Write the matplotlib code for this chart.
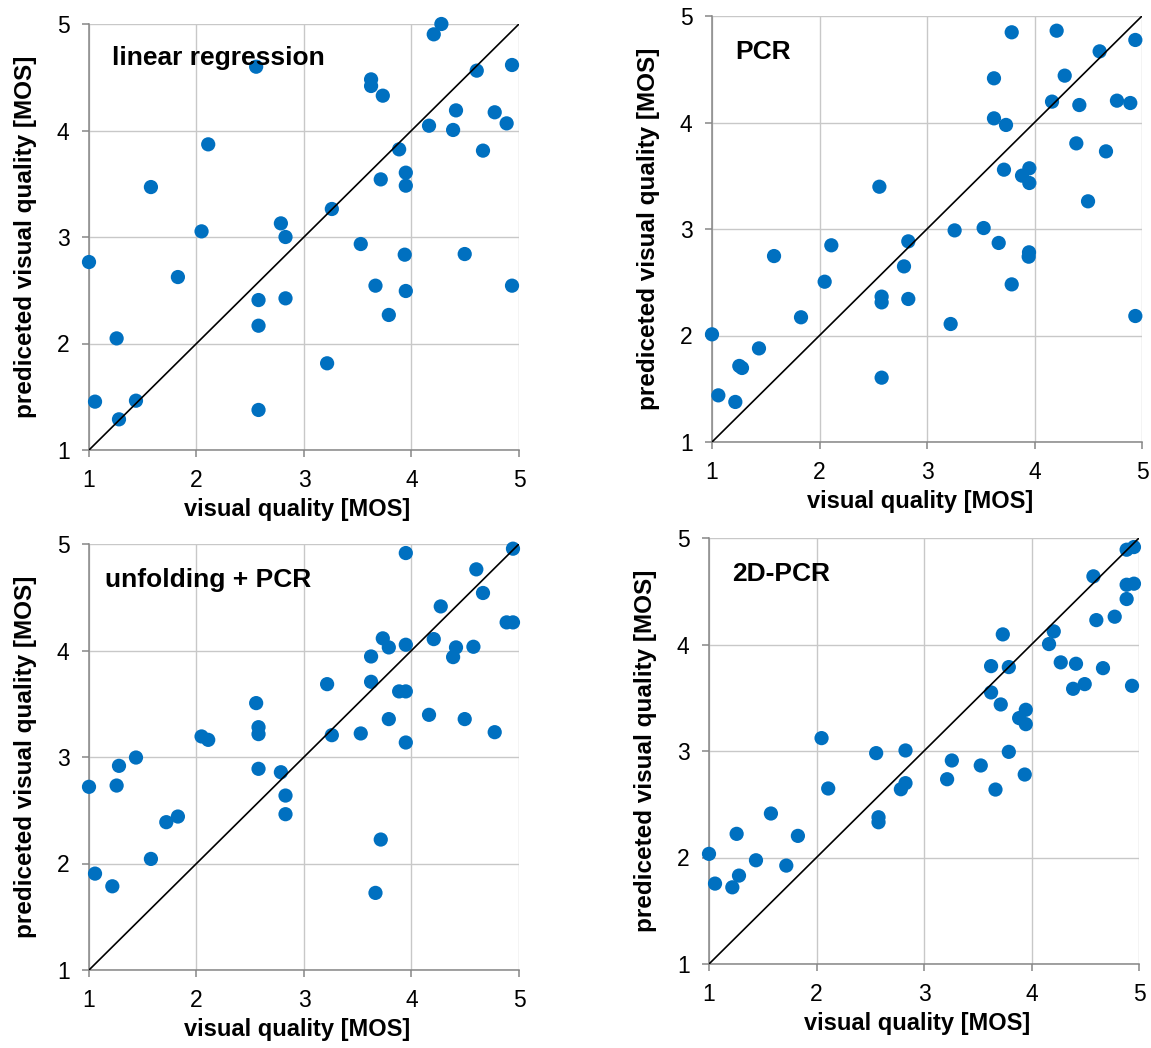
import matplotlib
matplotlib.use("Agg")
import matplotlib.pyplot as plt

plt.rcParams['font.family'] = ['Liberation Sans', 'DejaVu Sans']

# linear regression
lr_x = [4.278, 4.207, 2.555, 4.935, 4.607, 3.624, 3.624, 3.733, 4.414, 4.774,
        4.885, 4.163, 4.387, 2.109, 3.885, 4.665, 3.947, 3.714, 3.947, 1.576,
        3.259, 2.785, 2.047, 2.828, 3.528, 3.937, 4.495, 1.000, 1.827, 3.665,
        4.935, 3.947, 2.577, 2.828, 3.789, 2.577, 1.257, 3.215, 1.056, 1.437,
        1.279, 2.577]
lr_y = [5.000, 4.903, 4.599, 4.615, 4.562, 4.480, 4.418, 4.327, 4.189, 4.171,
        4.067, 4.045, 4.005, 3.870, 3.823, 3.811, 3.604, 3.541, 3.482, 3.469,
        3.263, 3.128, 3.053, 3.000, 2.934, 2.834, 2.840, 2.765, 2.624, 2.543,
        2.543, 2.493, 2.408, 2.424, 2.268, 2.167, 2.048, 1.814, 1.454, 1.463,
        1.288, 1.376]

# PCR
pcr_x = [3.788, 4.206, 4.938, 4.606, 3.623, 4.281, 4.163, 4.767, 4.891, 4.417,
         3.623, 3.735, 4.389, 4.665, 3.716, 3.952, 3.884, 3.952, 2.557, 4.498,
         3.527, 3.257, 2.826, 3.667, 2.110, 3.949, 3.946, 1.577, 2.786, 2.048,
         3.788, 2.578, 2.578, 2.826, 1.828, 3.220, 4.938, 1.000, 1.437, 1.254,
         1.279, 1.059, 1.217, 2.578]
pcr_y = [4.847, 4.862, 4.775, 4.668, 4.415, 4.440, 4.196, 4.205, 4.183, 4.164,
         4.039, 3.977, 3.804, 3.729, 3.557, 3.570, 3.501, 3.432, 3.397, 3.260,
         3.009, 2.987, 2.884, 2.869, 2.847, 2.781, 2.740, 2.746, 2.649, 2.505,
         2.480, 2.365, 2.311, 2.343, 2.171, 2.108, 2.183, 2.011, 1.879, 1.714,
         1.695, 1.438, 1.376, 1.604]

# unfolding + PCR
unf_x = [4.944, 3.947, 4.603, 4.665, 4.272, 4.885, 4.944, 3.733, 4.207, 3.789,
         3.947, 4.414, 4.576, 4.387, 3.624, 3.215, 3.624, 3.885, 3.947, 2.555,
         4.163, 3.789, 4.495, 2.577, 2.577, 2.047, 2.109, 3.259, 3.528, 4.774,
         3.947, 1.437, 1.279, 2.577, 2.785, 1.000, 1.257, 2.828, 2.828, 1.827,
         1.719, 3.714, 1.576, 1.056, 1.217, 3.665]
unf_y = [4.956, 4.915, 4.762, 4.540, 4.414, 4.264, 4.264, 4.114, 4.107, 4.029,
         4.054, 4.029, 4.035, 3.938, 3.944, 3.684, 3.706, 3.616, 3.616, 3.506,
         3.396, 3.356, 3.356, 3.280, 3.215, 3.193, 3.161, 3.205, 3.221, 3.233,
         3.136, 2.995, 2.917, 2.889, 2.857, 2.720, 2.732, 2.638, 2.463, 2.441,
         2.388, 2.225, 2.043, 1.905, 1.786, 1.724]

# 2D-PCR
pcr2d_x = [4.885, 4.953, 4.576, 4.885, 4.953, 4.885, 4.774, 4.603, 3.733, 4.207,
           4.163, 4.272, 4.414, 3.624, 3.789, 4.665, 4.495, 4.387, 4.935, 3.624,
           3.714, 3.947, 3.885, 3.947, 2.047, 2.828, 2.555, 3.789, 3.259, 3.528,
           3.937, 3.215, 2.828, 2.785, 3.665, 2.109, 2.577, 2.577, 1.576, 1.257,
           1.827, 1.000, 1.437, 1.719, 1.279, 1.056, 1.217]
pcr2d_y = [4.890, 4.915, 4.640, 4.561, 4.571, 4.427, 4.261, 4.229, 4.095, 4.123,
           4.004, 3.832, 3.819, 3.797, 3.788, 3.778, 3.628, 3.584, 3.612, 3.550,
           3.437, 3.387, 3.309, 3.252, 3.121, 3.005, 2.980, 2.992, 2.911, 2.864,
           2.779, 2.735, 2.698, 2.641, 2.638, 2.648, 2.378, 2.331, 2.413, 2.222,
           2.203, 2.034, 1.974, 1.924, 1.830, 1.755, 1.720]

ticks = [1, 2, 3, 4, 5]
titles = ['linear regression', 'PCR', 'unfolding + PCR', '2D-PCR']
xlabel = 'visual quality [MOS]'
ylabel = 'prediceted visual quality [MOS]'
panels = [(lr_x, lr_y), (pcr_x, pcr_y), (unf_x, unf_y), (pcr2d_x, pcr2d_y)]

W, H = 1151, 1048
# axes boxes in pixels: left, top, right, bottom
boxes = [(89, 24, 519, 450), (712, 16, 1142, 442),
         (89, 544, 519, 970), (709, 538, 1139, 964)]
title_pos = [(0.053, 0.904), (0.053, 0.899), (0.037, 0.899), (0.053, 0.899)]

fig = plt.figure(figsize=(W / 100, H / 100), dpi=100)

for (xs, ys), title, (tx, ty), (l, t, r, b) in zip(panels, titles, title_pos, boxes):
    ax = fig.add_axes([l / W, 1 - b / H, (r - l) / W, (b - t) / H])
    ax.set_xlim(1, 5)
    ax.set_ylim(1, 5)
    ax.set_xticks(ticks)
    ax.set_yticks(ticks)
    ax.grid(True, color='#c8c8c8', lw=1.0)
    ax.set_axisbelow(True)
    for s in ['top', 'right']:
        ax.spines[s].set_visible(False)
    for s in ['left', 'bottom']:
        ax.spines[s].set_color('#868686')
        ax.spines[s].set_linewidth(1.1)
    ax.tick_params(direction='out', length=5, width=1.1, color='#868686',
                   labelsize=16.5, labelcolor='black', pad=9)
    ax.scatter(xs, ys, s=105, color='#0070c0', edgecolors='none',
               clip_on=False, zorder=3)
    ax.plot([1, 5], [1, 5], color='black', lw=1.2, zorder=4)
    ax.text(tx, ty, title, transform=ax.transAxes, fontsize=19,
            fontweight='bold', va='baseline', ha='left')
    ax.set_xlabel(xlabel, fontsize=17, fontweight='bold')
    ax.set_ylabel(ylabel, fontsize=17.5, fontweight='bold')
    ax.xaxis.set_label_coords(0.483, -0.112)
    ax.yaxis.set_label_coords(-0.122, 0.5)

fig.savefig('out.png', dpi=100)
